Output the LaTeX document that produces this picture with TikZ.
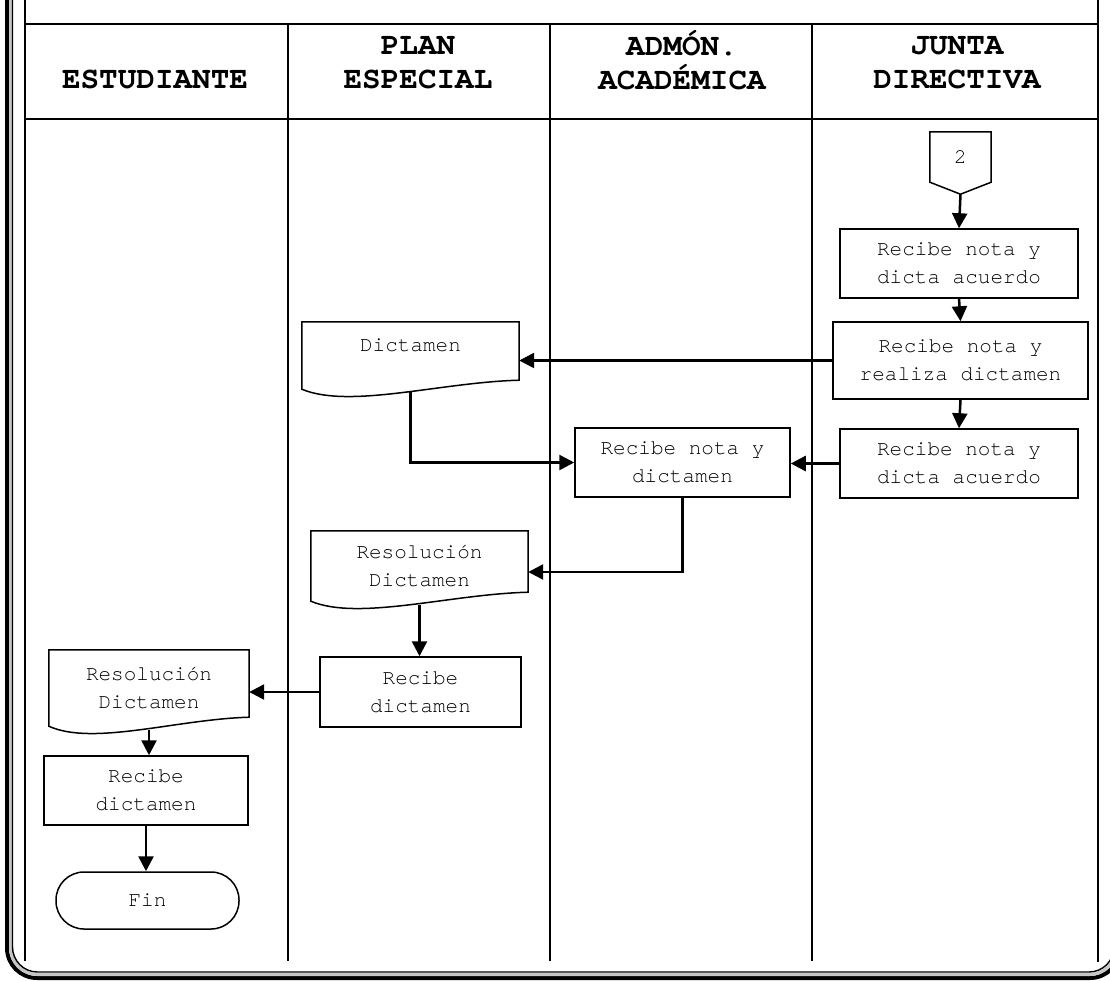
\documentclass[tikz,border=0pt]{standalone}
\usepackage{fontspec}
\setmonofont{TeX Gyre Cursor}
\usetikzlibrary{arrows.meta,calc}
% wavy-bottom document outline drawn around a named node
\newcommand\docedge[1]{%
  \draw[docline] let \p1=(#1.north west), \p2=(#1.south east), \n1={\x2-\x1} in
    (\p1) -- (\x2,\y1) -- (\x2,{\y2+9pt})
    .. controls ({\x2-0.36*\n1},{\y2+7pt}) and ({\x1+0.22*\n1},{\y2-20pt}) .. (\x1,\y2) -- cycle;}
\begin{document}
\begin{tikzpicture}[x=1pt,y=-1pt,
  lane/.style={line width=2.2pt},
  hdr/.style={font=\fontsize{31}{34}\selectfont\ttfamily\bfseries, align=center},
  txt/.style={font=\fontsize{21}{28}\selectfont\ttfamily, align=center, inner sep=0pt},
  proc/.style={txt, draw, line width=1.5pt},
  doc/.style={txt},
  docline/.style={line width=1.5pt},
  term/.style={txt, draw, line width=1.5pt, rounded corners=28pt},
  flow/.style={line width=2.5pt, -{Triangle[length=15pt,width=15pt]}},
]
\useasboundingbox (0,0) rectangle (1110,980);

% page border (outer thick, grey, inner thin)
\draw[line width=4pt, rounded corners=30pt] (7,-100) rectangle (1120,978);
\draw[line width=3pt, gray!45, rounded corners=27pt] (10.5,-100) rectangle (1116.5,974.5);
\draw[line width=1.4pt, rounded corners=25pt] (12.5,-100) rectangle (1114,972);

% swimlane grid
\draw[lane] (25,0) -- (25,961);
\draw[lane] (1098,0) -- (1098,962);
\draw[lane] (25,24) -- (1098,24);
\draw[lane] (25,119) -- (1098,119);
\draw[lane] (288,24) -- (288,961);
\draw[lane] (550,24) -- (550,961);
\draw[lane] (812,24) -- (812,961);

% lane headings
\node[hdr] (hE) at (155,79) {ESTUDIANTE};
\node[hdr] (hP) at (418,63) {PLAN\\ESPECIAL};
\node[hdr] (hA) at (682,60) {ADMÓN.\\ACADÉMICA};
\node[hdr] (hJ) at (957,63) {JUNTA\\DIRECTIVA};

% off-page connector
\node[txt, minimum width=61pt, minimum height=50pt] (c2) at (960.5,157) {2};
\draw[docline] (c2.north west) -- (c2.north east) -- (c2.south east)
  -- ($(c2.south)+(0,12)$) -- (c2.south west) -- cycle;
\coordinate (c2tip) at ($(c2.south)+(0,12)$);

% Junta Directiva
\node[proc, minimum width=238pt, minimum height=69pt] (jd1) at (959,263.5) {Recibe nota y\\dicta acuerdo};
\node[proc, minimum width=255pt, minimum height=77pt] (jd2) at (960.5,360.5) {Recibe nota y\\realiza dictamen};
\node[proc, minimum width=238pt, minimum height=69pt] (jd3) at (959,463.5) {Recibe nota y\\dicta acuerdo};

% Admon. Academica
\node[proc, minimum width=215pt, minimum height=69pt] (ae1) at (682.5,462.5) {Recibe nota y\\dictamen};

% Plan Especial
\node[doc, minimum width=217pt, minimum height=67pt] (dict) at (410.5,355.5) {Dictamen\\[-16pt]\strut};
\docedge{dict}
\node[doc, minimum width=217pt, minimum height=70pt] (res1) at (419.5,566) {Resolución\\Dictamen};
\docedge{res1}
\node[proc, minimum width=201pt, minimum height=70pt] (pe2) at (420.5,692) {Recibe\\dictamen};

% Estudiante
\node[doc, minimum width=200pt, minimum height=76pt] (res2) at (149,688) {Resolución\\Dictamen};
\docedge{res2}
\node[proc, minimum width=204pt, minimum height=69pt] (e2) at (146,790.5) {Recibe\\dictamen};
\node[term, minimum width=183pt, minimum height=57pt] (fin) at (147.5,900.5) {Fin};

% connectors
\draw[flow] (c2tip) -- (jd1.north);
\draw[flow] (jd1.south) -- (jd2.north);
\draw[flow] (jd2.south) -- (jd3.north);
\draw[flow] (jd2.west) -- (jd2.west -| dict.east);
\draw[flow] ($(dict.south)+(0,3)$) |- (ae1.west);
\draw[flow] (jd3.west) -- (jd3.west -| ae1.east);
\draw[flow] (ae1.south) |- ($(res1.east)+(0,6)$);
\draw[flow] ($(res1.south)+(0,4)$) -- (pe2.north -| res1.south);
\draw[flow] (pe2.west) -- (pe2.west -| res2.east);
\draw[flow] ($(res2.south)+(0,4)$) -- (e2.north -| res2.south);
\draw[flow] (e2.south) -- (e2.south |- fin.north);
\end{tikzpicture}
\end{document}
